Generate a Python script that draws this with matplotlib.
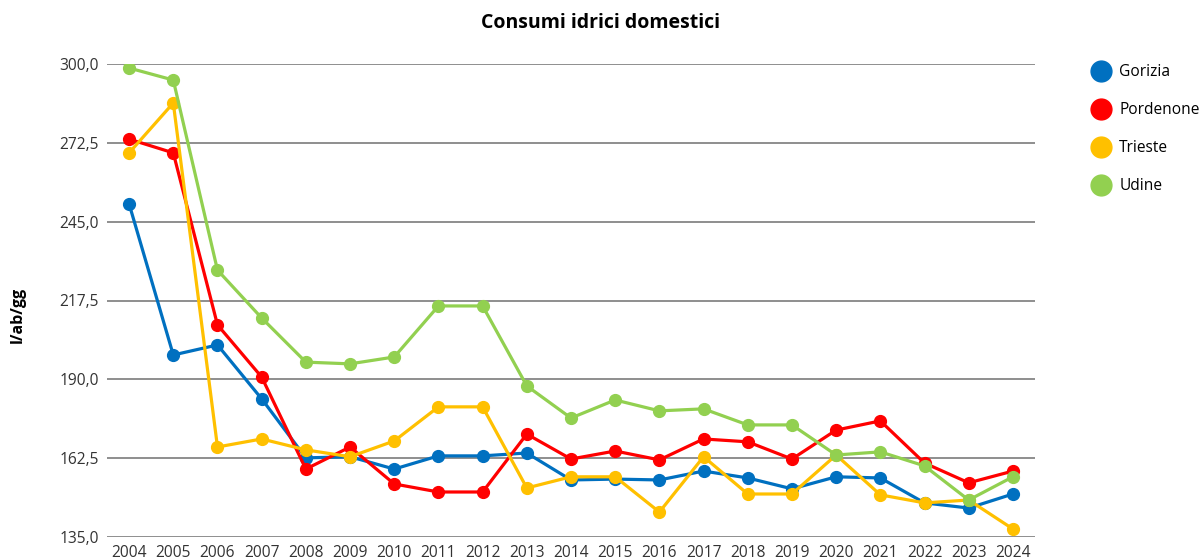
import matplotlib
matplotlib.use("Agg")
import matplotlib.pyplot as plt
from matplotlib.lines import Line2D

years = [str(y) for y in range(2004, 2025)]
gorizia = [251.2, 198.5, 202.0, 183.2, 162.6, 163.0, 158.7, 163.3, 163.3, 164.3, 154.9,
           155.2, 154.9, 158.0, 155.6, 151.8, 156.0, 155.6, 146.9, 145.1, 150.0]
pordenone = [273.8, 269.0, 209.0, 190.8, 158.7, 166.4, 153.5, 150.7, 150.7, 170.9, 162.2,
             165.0, 161.9, 169.2, 168.2, 162.2, 172.3, 175.5, 160.8, 153.9, 158.0]
trieste = [269.0, 286.4, 166.4, 169.2, 165.4, 163.0, 168.5, 180.4, 180.4, 152.1, 156.0,
           156.0, 143.7, 163.0, 150.0, 150.0, 163.6, 149.7, 146.9, 147.9, 137.8]
udine = [298.6, 294.4, 228.1, 211.4, 196.0, 195.4, 197.8, 215.6, 215.6, 187.7, 176.5,
         182.8, 179.0, 179.7, 174.1, 174.1, 163.6, 164.7, 159.8, 147.9, 156.0]
series_names = ["Gorizia", "Pordenone", "Trieste", "Udine"]
colors = ["#0070C0", "#FF0000", "#FFC000", "#92D050"]
yticks = [135.0, 162.5, 190.0, 217.5, 245.0, 272.5, 300.0]

plt.rcParams['font.family'] = ['Open Sans', 'DejaVu Sans']

fig = plt.figure(figsize=(12.01, 5.6), dpi=100)
ax = fig.add_axes([107/1201, 23/560, 928/1201, 473/560])

x = list(range(len(years)))
for vals, c in zip([gorizia, pordenone, trieste, udine], colors):
    ax.plot(x, vals, color=c, lw=2.3, marker='o', markersize=8.5, zorder=3)

ax.set_xlim(-0.5, len(years) - 0.5)
ax.set_ylim(135, 300)
ax.set_yticks(yticks)
ax.set_yticklabels([f"{v:.1f}".replace('.', ',') for v in yticks], fontsize=11.2, color='#333333')
ax.set_xticks(x)
ax.set_xticklabels(years, fontsize=11.2, color='#333333')
ax.tick_params(length=0, pad=6)
ax.grid(axis='y', color='#868686', lw=1.3, zorder=0)
for s in ax.spines.values():
    s.set_visible(False)

fig.text(0.5, 1 - 23/560, "Consumi idrici domestici", ha='center', va='center',
         fontsize=14, fontweight='bold')
fig.text(18/1201, 1 - 315/560, "l/ab/gg", rotation=90, ha='center', va='center',
         fontsize=11.5, fontweight='bold')

handles = [Line2D([], [], ls='none', marker='o', markersize=15, color=c) for c in colors]
fig.legend(handles, series_names, loc='upper left', bbox_to_anchor=(1092/1201, 1 - 64/560),
           frameon=False, fontsize=11.2, labelspacing=1.42, handletextpad=0.55,
           handlelength=1.2, borderaxespad=0, borderpad=0)

fig.savefig("out.png", dpi=100)
